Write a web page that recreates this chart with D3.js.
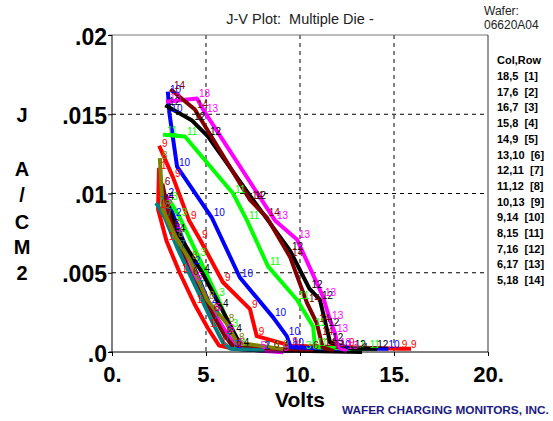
<!DOCTYPE html>
<html><head><meta charset="utf-8">
<script src="https://cdn.jsdelivr.net/npm/d3@7"></script>
<style>body{margin:0;background:#fff}svg{display:block;font-family:"Liberation Sans",Arial,sans-serif}</style>
</head><body><svg id="c" width="553" height="421"></svg>
<script>
const legendItems = ["18,5  [1]","17,6  [2]","16,7  [3]","15,8  [4]","14,9  [5]","13,10  [6]","12,11  [7]","11,12  [8]","10,13  [9]","9,14  [10]","8,15  [11]","7,16  [12]","6,17  [13]","5,18  [14]"];
const seriesIds = [1,2,3,4,5,6,7,8,9,10,11,12,13,14];
const seriesColors = ["#ff0000","#0000ff","#00ff00","#000000","#ff00ff","#800000","#008080","#808000","#ff0000","#0000ff","#00ff00","#000000","#ff00ff","#800000"];
const seriesV = [
  [2.5,2.45,2.9,3.6,4.4,5.1,5.7,6.5,8.0],
  [2.9,3.3,4.3,5.2,6.0,6.5,8.0,9.5],
  [3.1,3.6,4.6,5.6,6.3,6.7,8.5,10.2],
  [2.9,3.5,4.8,5.8,6.5,6.9,9.0,13.2],
  [2.8,3.3,4.4,5.4,6.1,6.6,7.8,9.0],
  [2.7,3.2,4.2,5.3,6.0,6.5,8.5,10.6],
  [2.4,2.8,3.5,4.5,5.3,5.9,6.3,8.0],
  [2.55,2.7,3.4,4.15,5.05,6.1,6.65,9.0],
  [2.55,3.25,4.1,4.68,5.9,7.34,7.7,9.5,12.5,15.3,15.8],
  [2.98,3.05,3.46,5.3,6.8,8.56,9.3,9.5,12.0,14.6],
  [2.82,3.88,6.44,7.18,8.3,9.84,10.7,10.8,12.8,13.6],
  [2.93,4.26,5.1,7.5,9.47,10.5,11.06,11.4,11.6,12.8,14.0],
  [2.98,4.52,4.95,8.67,9.84,11.22,11.6,11.86,12.02,12.4],
  [3.19,4.41,7.34,8.23,9.47,10.37,10.9,11.06,11.2,11.7]
];
const seriesJ = [
  [0.0115,0.0090,0.0070,0.0050,0.0030,0.0015,0.0004,0.0002,0.0001],
  [0.0098,0.0085,0.0055,0.0030,0.0011,0.0002,0.0001,0.0001],
  [0.0095,0.0085,0.0060,0.0035,0.0015,0.0003,0.0002,0.0001],
  [0.0095,0.0075,0.0050,0.0028,0.0012,0.0003,0.0001,0.0000],
  [0.0093,0.0075,0.0045,0.0025,0.0012,0.0003,0.0001,0.0000],
  [0.0105,0.0078,0.0048,0.0025,0.0010,0.0003,0.0002,0.0001],
  [0.0093,0.0085,0.0065,0.0040,0.0020,0.0006,0.0002,0.0001],
  [0.0121,0.0090,0.0072,0.0058,0.0033,0.0018,0.0006,0.0002],
  [0.0129,0.0110,0.0083,0.0071,0.0044,0.0027,0.0010,0.0004,0.0003,0.0002,0.0002],
  [0.0163,0.0151,0.0117,0.0085,0.0047,0.0022,0.0010,0.0003,0.0002,0.0002],
  [0.0137,0.0136,0.0100,0.0083,0.0054,0.0033,0.0016,0.0003,0.0002,0.0002],
  [0.0155,0.0146,0.0136,0.0096,0.0064,0.0040,0.0033,0.0016,0.0006,0.0002,0.0002],
  [0.0158,0.0160,0.0151,0.0083,0.0071,0.0035,0.0020,0.0012,0.0003,0.0001],
  [0.0165,0.0153,0.0096,0.0085,0.0060,0.0031,0.0018,0.0010,0.0003,0.0001]
];
const xTicks = [0,5,10,15,20];
const xTickLabels = ["0.","5.","10.","15.","20."];
const yTicks = [0,0.005,0.01,0.015,0.02];
const yTickLabels = [".0",".005",".01",".015",".02"];
const yTitleChars = ["J","A","/","C","M","2"];

const svg = d3.select("#c");
const L=112,R=488,T=35,B=352;
const x = d3.scaleLinear().domain([0,20]).range([L,R]);
const y = d3.scaleLinear().domain([0,0.02]).range([B,T]);

// grid
const g = svg.append("g");
g.selectAll(".gx").data(xTicks.slice(1,4)).enter().append("line")
  .attr("x1",d=>x(d)).attr("x2",d=>x(d)).attr("y1",T).attr("y2",B)
  .attr("stroke","#000").attr("stroke-dasharray","4,4");
g.selectAll(".gy").data(yTicks.slice(1,4)).enter().append("line")
  .attr("x1",L).attr("x2",R).attr("y1",d=>y(d)).attr("y2",d=>y(d))
  .attr("stroke","#000").attr("stroke-dasharray","4,4");
// frame
svg.append("line").attr("x1",L-3).attr("x2",R).attr("y1",T).attr("y2",T).attr("stroke","#777");
svg.append("line").attr("x1",R).attr("x2",R).attr("y1",T).attr("y2",B).attr("stroke","#333");

// series
const line = d3.line().x(d=>x(d[0])).y(d=>y(d[1]));
const ser = seriesIds.map((id,i)=>({id, color:seriesColors[i], pts: seriesV[i].map((v,k)=>[v,seriesJ[i][k]])}));
svg.append("g").selectAll("path").data(ser).enter().append("path")
  .attr("d",d=>line(d.pts)).attr("fill","none").attr("stroke",d=>d.color)
  .attr("stroke-width",4).attr("stroke-linejoin","round").attr("stroke-linecap","square");
const lab = svg.append("g").attr("font-size",10);
ser.forEach(s=>{
  lab.selectAll(null).data(s.pts).enter().append("text")
    .attr("x",d=>x(d[0])+2).attr("y",d=>y(d[1])-1)
    .attr("fill",s.color).text(s.id);
});

// axes
const ax = d3.axisBottom(x).tickValues(xTicks).tickSize(4).tickFormat((d,i)=>xTickLabels[i]);
const xa = svg.append("g").attr("transform",`translate(0,${B})`).call(ax);
xa.select(".domain").attr("d",`M${L-3},0H${R}`);
xa.selectAll("text").attr("font-size",22).attr("font-weight","bold").attr("fill","#000")
  .attr("font-family","Liberation Sans, Arial, sans-serif").attr("dy","1.05em");
const ay = d3.axisLeft(y).tickValues(yTicks).tickSize(4).tickFormat((d,i)=>yTickLabels[i]);
const ya = svg.append("g").attr("transform",`translate(${L},0)`).call(ay);
ya.select(".domain").attr("d",`M0,${T}V${B}`);
ya.selectAll("text").attr("font-size",23).attr("font-weight","bold").attr("fill","#000")
  .attr("font-family","Liberation Sans, Arial, sans-serif").attr("x",-5).attr("dy","0.4em");

// titles
svg.append("text").attr("x",300).attr("y",24).attr("text-anchor","middle").attr("font-size",14.5).attr("fill","#222")
  .style("white-space","pre").text("J-V Plot:  Multiple Die -");
svg.append("text").attr("x",484).attr("y",15).attr("font-size",12).attr("fill","#222").text("Wafer:");
svg.append("text").attr("x",484).attr("y",29).attr("font-size",12).attr("fill","#222").text("06620A04");
svg.append("text").attr("x",300).attr("y",407).attr("text-anchor","middle").attr("font-size",21).attr("font-weight","bold").text("Volts");
svg.append("text").attr("x",342).attr("y",414).attr("font-size",11.8).attr("font-weight","bold").attr("fill","#1a1a80").text("WAFER CHARGING MONITORS, INC.");
const titleY = [115,169,195,222,247,273];
svg.append("g").selectAll("text").data(yTitleChars).enter().append("text")
  .attr("x",22).attr("y",(d,i)=>titleY[i]+7).attr("text-anchor","middle")
  .attr("font-size",20).attr("font-weight","bold").text(d=>d);
// legend
svg.append("text").attr("x",497).attr("y",64).attr("font-size",11).attr("font-weight","bold").text("Col,Row");
svg.append("g").selectAll("text").data(legendItems).enter().append("text")
  .attr("x",497).attr("y",(d,i)=>80+i*15.7).attr("font-size",11).attr("font-weight","bold")
  .style("white-space","pre").text(d=>d);
</script></body></html>
